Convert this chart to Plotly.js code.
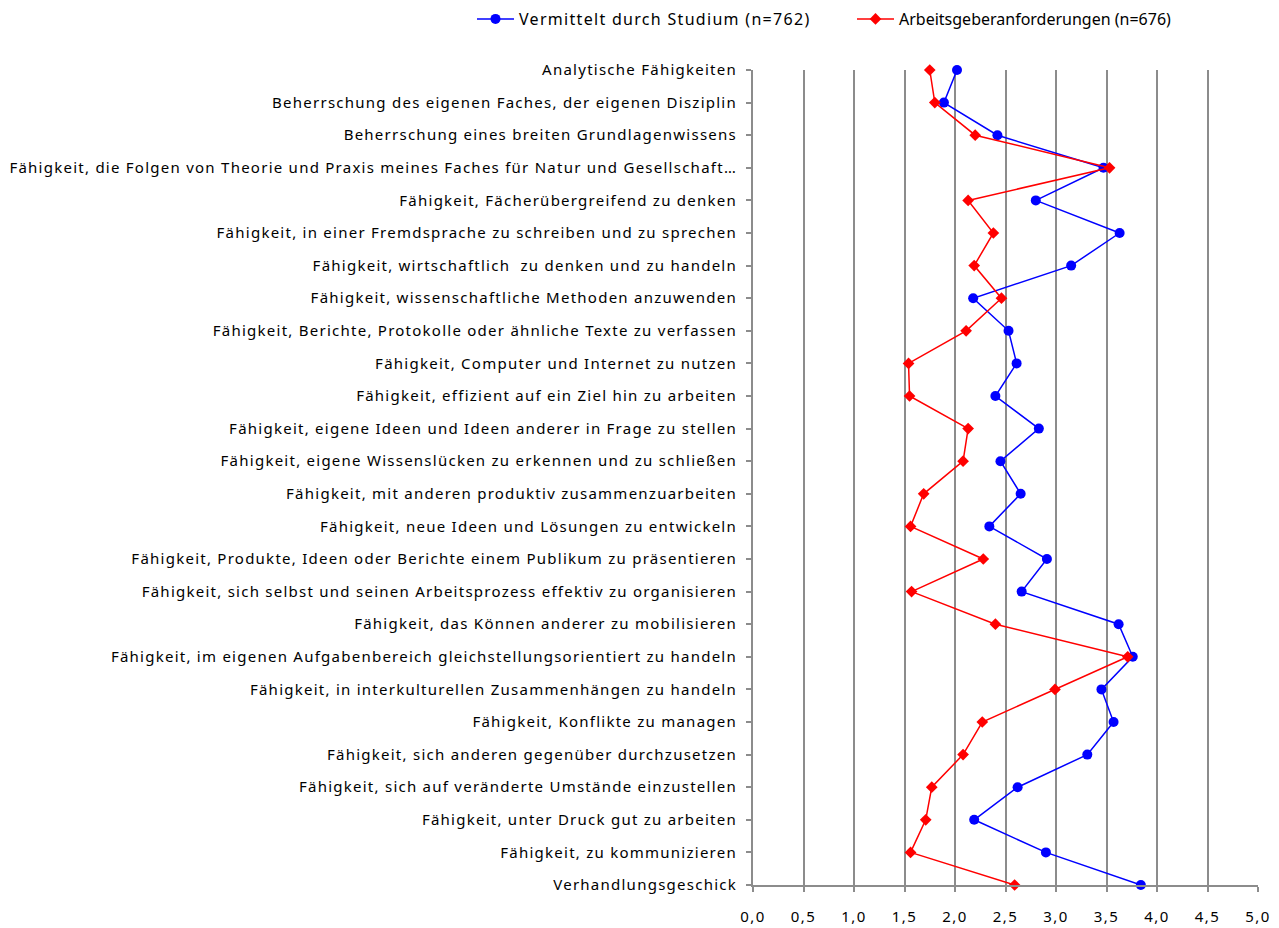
<!DOCTYPE html>
<html>
<head>
<meta charset="utf-8">
<script src="https://cdn.plot.ly/plotly-3.0.1.min.js"></script>
<style>
html,body{margin:0;padding:0;background:#fff;}
#chart{width:1279px;height:928px;}
#chart .ytick text { letter-spacing: 1.25px; }
#chart .xtick text { letter-spacing: 1.5px; }
#chart text.legendtext { letter-spacing: 1.3px !important; }
#chart .scrollbox { clip-path: none !important; }
</style>
</head>
<body>
<div id="chart"></div>
<script>
const categories = [
  "Analytische Fähigkeiten",
  "Beherrschung des eigenen Faches, der eigenen Disziplin",
  "Beherrschung eines breiten Grundlagenwissens",
  "Fähigkeit, die Folgen von Theorie und Praxis meines Faches für Natur und Gesellschaft…",
  "Fähigkeit, Fächerübergreifend zu denken",
  "Fähigkeit, in einer Fremdsprache zu schreiben und zu sprechen",
  "Fähigkeit, wirtschaftlich  zu denken und zu handeln",
  "Fähigkeit, wissenschaftliche Methoden anzuwenden",
  "Fähigkeit, Berichte, Protokolle oder ähnliche Texte zu verfassen",
  "Fähigkeit, Computer und Internet zu nutzen",
  "Fähigkeit, effizient auf ein Ziel hin zu arbeiten",
  "Fähigkeit, eigene Ideen und Ideen anderer in Frage zu stellen",
  "Fähigkeit, eigene Wissenslücken zu erkennen und zu schließen",
  "Fähigkeit, mit anderen produktiv zusammenzuarbeiten",
  "Fähigkeit, neue Ideen und Lösungen zu entwickeln",
  "Fähigkeit, Produkte, Ideen oder Berichte einem Publikum zu präsentieren",
  "Fähigkeit, sich selbst und seinen Arbeitsprozess effektiv zu organisieren",
  "Fähigkeit, das Können anderer zu mobilisieren",
  "Fähigkeit, im eigenen Aufgabenbereich gleichstellungsorientiert zu handeln",
  "Fähigkeit, in interkulturellen Zusammenhängen zu handeln",
  "Fähigkeit, Konflikte zu managen",
  "Fähigkeit, sich anderen gegenüber durchzusetzen",
  "Fähigkeit, sich auf veränderte Umstände einzustellen",
  "Fähigkeit, unter Druck gut zu arbeiten",
  "Fähigkeit, zu kommunizieren",
  "Verhandlungsgeschick"
];
const studium = [2.02, 1.89, 2.42, 3.47, 2.80, 3.63, 3.15, 2.18, 2.53, 2.61, 2.40, 2.83, 2.45, 2.65, 2.34, 2.91, 2.66, 3.62, 3.76, 3.45, 3.57, 3.31, 2.62, 2.19, 2.90, 3.84];
const arbeitgeber = [1.75, 1.80, 2.20, 3.53, 2.13, 2.38, 2.19, 2.46, 2.11, 1.54, 1.55, 2.13, 2.08, 1.69, 1.56, 2.28, 1.57, 2.40, 3.71, 2.99, 2.27, 2.08, 1.77, 1.71, 1.56, 2.59];
const seriesNames = ["Vermittelt durch Studium (n=762)", "Arbeitsgeberanforderungen (n=676)"];
const xTickVals = [0, 0.5, 1, 1.5, 2, 2.5, 3, 3.5, 4, 4.5, 5];
const xTickText = ["0,0", "0,5", "1,0", "1,5", "2,0", "2,5", "3,0", "3,5", "4,0", "4,5", "5,0"];

const FONT = "Noto Sans, Liberation Sans, sans-serif";

const traces = [
  {
    type: "scatter", mode: "lines+markers", name: seriesNames[0], legend: "legend",
    x: studium, y: categories, cliponaxis: false,
    line: {color: "#0000ff", width: 1.5},
    marker: {color: "#0000ff", symbol: "circle", size: 10}
  },
  {
    type: "scatter", mode: "lines+markers", name: seriesNames[1], legend: "legend2",
    x: arbeitgeber, y: categories, cliponaxis: false,
    line: {color: "#ff0000", width: 1.5},
    marker: {color: "#ff0000", symbol: "diamond", size: 9}
  }
];

const legendBase = {orientation: "h", xref: "container", yref: "container",
  xanchor: "left", y: 1 - 19/928, yanchor: "middle",
  font: {family: FONT, size: 16}, itemwidth: 37, bgcolor: "rgba(0,0,0,0)"};

const layout = {
  width: 1279, height: 928,
  margin: {l: 753, r: 21, t: 70, b: 43},
  paper_bgcolor: "#fff", plot_bgcolor: "#fff",
  font: {family: FONT, size: 15, color: "#000"},
  showlegend: true,
  legend: Object.assign({}, legendBase, {x: 472/1279}),
  legend2: Object.assign({}, legendBase, {x: 852/1279}),
  xaxis: {
    range: [0, 5], tickvals: xTickVals, ticktext: xTickText,
    showgrid: true, gridcolor: "#8c8c8c", gridwidth: 2,
    showline: true, linecolor: "#8c8c8c", linewidth: 2,
    ticks: "outside", ticklen: 5, tickcolor: "#8c8c8c", tickwidth: 2,
    ticklabelstandoff: 12,
    zeroline: false, tickfont: {family: FONT, size: 15}
  },
  yaxis: {
    type: "category", range: [25, 0],
    showgrid: false, showline: true, linecolor: "#8c8c8c", linewidth: 2,
    ticks: "outside", ticklen: 5, tickcolor: "#8c8c8c", tickwidth: 2,
    ticklabelstandoff: 6,
    tickfont: {family: FONT, size: 15}, automargin: false
  }
};

function spaceLegend() {
  document.querySelectorAll("#chart text.legendtext").forEach(function (t) {
    t.setAttribute("letter-spacing", "1.3px");
    t.style.letterSpacing = "1.3px";
  });
}

Plotly.newPlot("chart", traces, layout, {displayModeBar: false, staticPlot: true}).then(function (gd) {
  spaceLegend();
  gd.on("plotly_afterplot", spaceLegend);
});
</script>
</body>
</html>
